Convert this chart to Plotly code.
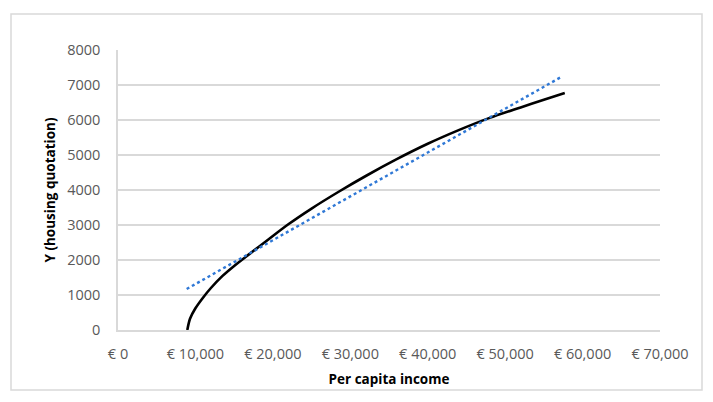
import plotly.graph_objects as go

# Fitted curve
income = [8950, 9300, 10000, 11000, 12000, 13500, 15000, 17000, 19500, 22000,
          25000, 28500, 32000, 36000, 40000, 44000, 48000, 52000, 55000, 57700]
quotation = [0, 320, 620, 930, 1200, 1545, 1830, 2175, 2600, 3020,
             3470, 3950, 4400, 4880, 5320, 5710, 6060, 6360, 6580, 6770]

# Linear trend line
trend_income = [8870, 57300]
trend_quotation = [1171, 7237]

x_ticks = [0, 10000, 20000, 30000, 40000, 50000, 60000, 70000]
x_labels = ["€ 0", "€ 10,000", "€ 20,000", "€ 30,000", "€ 40,000",
            "€ 50,000", "€ 60,000", "€ 70,000"]
y_ticks = [0, 1000, 2000, 3000, 4000, 5000, 6000, 7000, 8000]

fig = go.Figure()

fig.add_trace(go.Scatter(
    x=income, y=quotation, mode="lines",
    line=dict(color="black", width=2.6, shape="spline", smoothing=0.8),
    showlegend=False,
))

fig.add_trace(go.Scatter(
    x=trend_income, y=trend_quotation, mode="lines",
    line=dict(color="#2f78d6", width=2.4, dash="dot"),
    showlegend=False,
))

# page body adds an 8px margin, so the figure is 8px smaller than the window
W, H = 705, 394
L, R, T, B = 110, 53, 42, 72
pw, ph = W - L - R, H - T - B

# Outer chart border
fig.add_shape(type="rect", xref="paper", yref="paper",
              x0=(3 - L) / pw, x1=(694 - L) / pw,
              y0=(H - B - 382) / ph, y1=(H - B - 6) / ph,
              line=dict(color="#d9d9d9", width=1.5), layer="below")

title_font = dict(family="Open Sans", size=13.5, color="black")

fig.update_layout(
    width=W, height=H,
    margin=dict(l=L, r=R, t=T, b=B),
    paper_bgcolor="white", plot_bgcolor="white",
    font=dict(family="Open Sans", size=14.5, color="#595959"),
    xaxis=dict(
        range=[0, 70000], tickvals=x_ticks, ticktext=x_labels,
        showgrid=False, zeroline=False,
        showline=True, linecolor="#d9d9d9", linewidth=1.5,
        ticks="", ticklabelstandoff=10,
        title=dict(text="<b>Per capita income</b>", font=title_font,
                   standoff=12),
    ),
    yaxis=dict(
        range=[0, 8000], tickvals=y_ticks,
        showgrid=True, gridcolor="#d9d9d9", gridwidth=1.5,
        zeroline=False,
        showline=True, linecolor="#d9d9d9", linewidth=1.5,
        ticks="", ticklabelstandoff=13,
        title=dict(text="<b>Y (housing quotation)</b>", font=title_font,
                   standoff=8),
    ),
)

fig.write_html("out.html")
